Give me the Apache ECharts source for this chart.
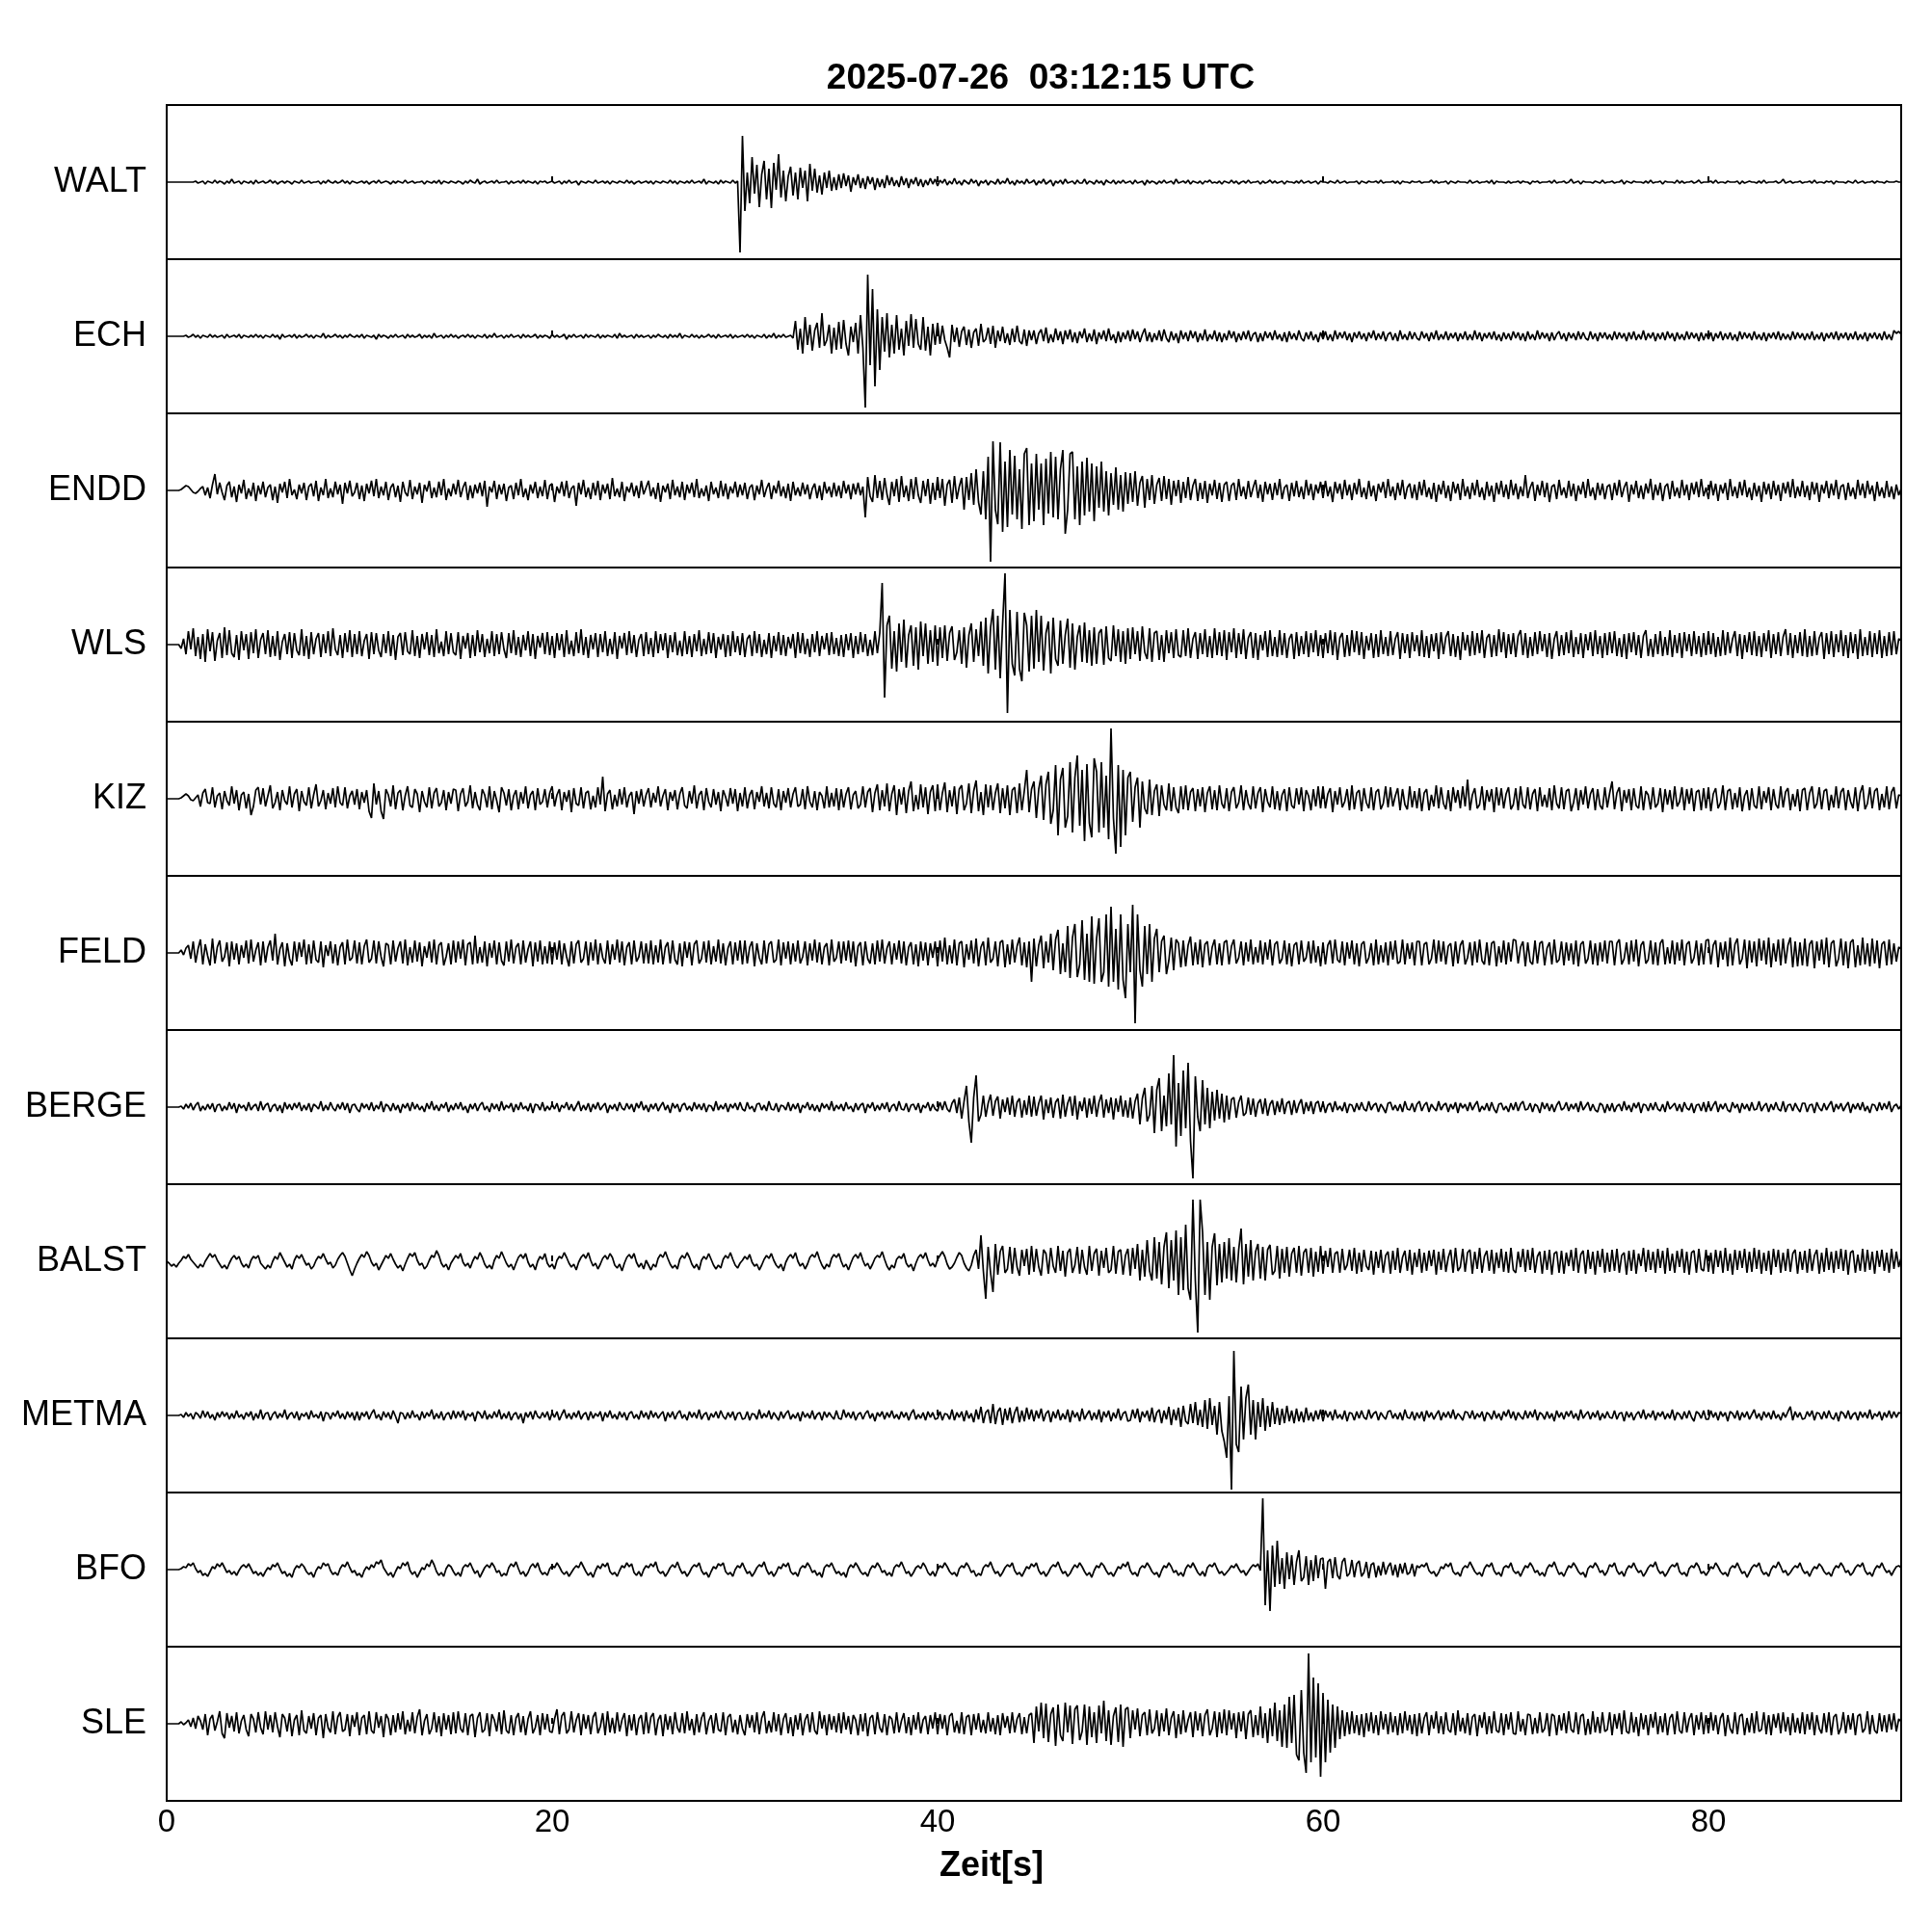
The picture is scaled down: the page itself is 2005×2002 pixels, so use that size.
<!DOCTYPE html>
<html><head><meta charset="utf-8">
<script src="https://cdn.jsdelivr.net/npm/echarts@6/dist/echarts.min.js"></script>
<style>html,body{margin:0;padding:0;background:#fff}#c{width:2005px;height:2002px}</style>
</head><body><div id="c"></div>
<script>
const chartTitle = '2025-07-26  03:12:15 UTC';
const xAxisName = 'Zeit[s]';
const stations = ['WALT','ECH','ENDD','WLS','KIZ','FELD','BERGE','BALST','METMA','BFO','SLE'];
const sampleStep = 0.125; // seconds between samples
const rowSpan = 5;        // each row below holds 5 s of samples
const timeMax = 90;
const xTickLabels = [0, 20, 40, 60, 80];

const WALT = [
[0,0,0,0,0,0,0,0,0,0,0,0,1,-1,0,1,-2,1,0,-1,2,-1,1,0,-2,1,-1,3,-1,0,1,-2,1,0,-1,1,-2,2,-1,0],
[1,-1,0,2,-1,1,-2,0,1,-1,1,0,-2,1,0,-1,2,-1,0,1,-1,0,0,1,-2,1,-1,2,0,-1,1,-1,0,2,-1,1,-2,1,0,-1],
[0,1,-1,1,-2,0,1,-1,2,-1,0,1,0,-2,1,-1,1,0,-1,2,-1,0,1,-1,0,0,1,-2,1,0,-1,1,-1,2,-2,1,0,-1,1,0],
[-1,1,0,-2,1,-1,2,0,-1,3,-2,0,1,-1,0,1,-1,2,-1,0,0,1,-2,1,-1,0,1,-1,2,-1,1,0,-1,1,-2,1,0,1,-1,0],
[1,-1,0,1,-2,1,-1,2,-1,0,1,-3,1,0,-1,1,0,-1,2,-1,0,1,-1,1,-2,1,0,-1,1,0,-1,2,-1,1,-2,0,1,-1,0,1],
[-1,1,-2,1,0,-1,1,0,-1,2,-1,1,-2,1,0,-1,1,-1,2,-1,0,1,-1,3,-2,1,0,-1,1,-2,2,-1,1,0,-1,2,-1,1,-73,48],
[-30,10,-22,26,-12,18,-26,8,22,-18,14,-27,20,-8,29,-16,12,-20,6,16,-14,10,-18,15,-6,12,-20,19,-9,14,-11,7,-13,10,-6,12,-9,5,-8,8],
[-6,9,-4,7,-10,5,-3,8,-6,4,-7,6,-2,5,-8,4,-5,3,-6,7,-3,5,-4,2,-5,6,-3,4,-6,3,-2,5,-4,3,-5,2,-3,4,-2,3],
[-4,2,-1,3,-3,1,-2,4,-2,1,-3,2,0,-2,3,-1,2,-4,1,-1,2,-3,1,0,-2,3,-2,1,-1,4,-2,1,-3,2,-1,1,-2,3,-1,0],
[2,-3,1,-1,3,-2,0,2,-4,1,-1,2,-2,3,-1,0,1,-2,2,-1,-1,3,-2,1,0,-2,2,-1,1,-3,2,0,-1,2,-2,1,-1,2,-1,0],
[1,-2,2,-1,0,1,-3,2,-1,1,0,-2,1,-1,2,-1,0,1,-2,3,-1,0,1,-1,2,-2,1,0,-1,1,-2,1,0,2,-1,0,-1,1,-2,1],
[0,-1,2,-1,1,-2,0,1,-1,2,-1,0,0,1,-2,1,-1,0,2,-1,1,-1,0,1,-2,1,0,0,-1,1,-1,2,-1,0,1,-1,0,1,-2,1],
[0,0,-1,1,0,-1,2,-1,0,1,-1,0,0,0,1,-2,1,0,-1,1,0,0,1,-1,2,-1,0,0,0,1,-1,1,-2,1,0,0,-1,1,0,0],
[1,-1,0,0,0,2,-1,1,-1,0,0,1,-2,1,0,-1,1,0,0,0,-1,2,-1,0,1,-1,0,0,1,-1,2,-2,1,0,0,0,-1,1,-1,0],
[0,1,-1,1,0,0,-2,1,0,1,-1,0,0,0,1,-1,2,-1,0,0,1,-1,0,3,-1,0,1,-2,1,0,0,0,-1,1,0,-1,2,-1,0,0],
[1,-1,0,0,2,-2,1,0,-1,1,0,0,0,-1,1,-1,2,-1,0,0,1,-2,1,0,0,0,-1,2,-1,1,-1,0,0,1,-1,0,2,-1,0,0],
[0,1,-1,2,-1,0,0,-1,1,0,0,0,1,-2,1,-1,0,1,0,0,-1,1,-1,2,-1,0,0,0,1,-1,0,3,-1,0,1,-1,0,0,1,-1],
[0,0,1,-1,2,-1,0,0,-1,1,0,1,-2,1,0,0,0,-1,1,0,-1,2,-1,0,1,-1,0,0,1,-1,1,0,0,-1,1,0,0,0,1,0,0]];

const ECH = [
[0,0,0,0,0,0,0,0,1,-1,0,2,-1,1,-2,1,0,-1,2,-1,1,-1,0,1,-2,2,-1,0,1,-1,2,-2,1,0,-1,1,-1,2,-1,1],
[-2,1,0,-1,2,-1,1,-3,2,-1,0,1,-1,2,-2,1,-1,0,2,-1,1,-2,1,0,-1,3,-2,1,-1,0,2,-1,1,-2,1,-1,2,0,-1,1],
[-1,2,-2,1,0,-1,1,-3,2,-1,1,0,-2,1,-1,2,-1,0,1,-2,2,-1,1,-1,0,2,-2,1,-1,1,-2,3,-1,0,1,-2,1,-1,2,-1],
[1,-2,0,1,-1,2,-1,1,-2,1,0,-1,2,-2,1,-1,3,-1,0,1,-2,1,-1,2,-1,0,1,-2,2,-1,1,-1,0,2,-2,1,-1,1,0,-2],
[2,-1,1,-1,0,2,-3,1,-1,2,-1,0,1,-2,2,-1,1,0,-1,2,-2,1,-1,1,0,-1,2,-2,3,-1,1,-1,0,1,-2,2,-1,1,-1,0],
[1,-2,1,-1,2,0,-1,1,-2,2,-1,1,-1,3,-2,1,0,-1,2,-1,1,-2,1,-1,0,2,-1,1,-2,2,-1,0,1,-1,2,-2,1,-1,0,1],
[-1,2,-1,1,-2,1,0,-1,2,-2,1,-1,3,-2,1,-1,2,-1,0,1,-2,16,-14,8,-18,20,-9,12,-15,6,14,-12,24,-10,-4,12,-18,9,-14,15],
[-13,17,-8,-20,10,-6,14,-18,22,-12,-74,64,-30,49,-52,28,-35,20,-16,24,-22,12,-18,22,-14,8,-20,16,-10,23,-12,18,-8,-14,20,-15,10,-20,13,-9],
[14,-8,11,-4,-12,-22,12,-6,9,-11,5,10,-9,7,-12,4,8,-10,13,-6,-3,9,-8,11,-12,6,-5,10,-7,3,-9,8,-6,11,-5,-8,7,-10,6,-4],
[6,-8,3,7,-5,9,-7,2,-6,8,-4,5,-8,6,-3,7,-6,4,-7,5,-2,8,-6,3,-5,7,-8,4,-3,6,-5,8,-4,2,-7,5,-6,4,-3,6],
[-5,7,-3,5,-6,2,8,-5,4,-6,3,-4,6,-5,7,-2,-6,5,-4,3,-7,6,-3,4,-5,6,-2,5,-6,3,-4,7,-5,2,-3,6,-5,4,-6,3],
[-4,6,-2,5,-6,3,-4,5,-3,6,-5,2,4,-6,3,-5,5,-2,4,-4,6,-3,2,-5,4,-6,5,-3,3,-4,6,-2,-5,4,-3,5,-4,2,-6,4],
[-3,5,-4,2,-5,6,-3,4,-2,5,-4,3,-6,4,-2,5,-3,3,-5,4,-2,6,-4,3,-3,5,-5,2,4,-4,3,-5,6,-3,2,-4,5,-3,4,-2],
[-4,5,-2,3,-5,4,-3,6,-4,2,-3,5,-4,3,-2,4,-5,3,-3,5,-4,2,-4,6,-3,4,-5,3,-2,4,-3,5,-4,2,-5,4,-3,3,-4,5],
[-2,4,-4,3,-5,5,-3,2,-4,6,-3,4,-2,3,-5,4,-4,2,5,-3,3,-5,4,-2,3,-4,5,-3,4,-2,-4,5,-3,3,-5,4,-2,4,-3,2],
[-4,5,-3,4,-2,3,-5,4,-3,5,-4,2,-3,6,-4,3,-2,4,-5,3,-3,4,-4,5,-2,3,-5,4,-3,2,-4,5,-3,4,-2,3,-5,4,-4,3],
[-3,4,-5,3,-2,5,-4,3,-3,4,-4,2,-5,5,-3,4,-2,3,-4,5,-3,2,-4,4,-5,3,-2,4,-3,5,-4,3,-3,2,-4,5,-3,4,-2,3],
[-4,3,-3,5,-4,2,-3,4,-5,3,-2,4,-3,5,-4,3,-2,4,-4,3,-3,5,-4,2,-3,4,-5,3,-2,4,-3,3,-4,5,-3,2,-4,6,3,5,2]];

const ENDD = [
[0,0,0,0,0,0,1,3,5,4,1,-2,-3,-1,2,4,-5,3,-8,6,17,-4,8,-2,-10,5,9,-7,4,-12,6,-3,11,-9,2,-6,8,-11,5,-4],
[9,-7,3,6,-10,4,-13,7,-2,9,-8,12,-5,1,-9,6,-3,8,-10,4,7,-6,10,-11,3,-5,12,-8,2,-7,9,-4,6,-14,8,-3,10,-6,-2,8],
[-9,5,-11,7,-3,10,-6,12,-8,4,-5,9,-10,3,7,-7,5,-12,9,-2,-6,11,-9,4,-4,8,-13,6,-1,10,-8,3,-7,9,-5,12,-10,2,-6,7],
[-4,11,-7,3,9,-10,5,-8,6,-3,8,-6,10,-17,4,-2,10,-9,6,-4,7,-11,3,5,-9,8,-5,12,-7,2,-10,6,-3,9,-8,4,-6,11,-9,5],
[7,-12,4,-3,9,-6,10,-8,2,5,-16,8,-4,11,-7,3,-9,8,-5,10,-10,6,-3,7,-9,13,-6,2,-7,9,-11,4,-2,8,-6,5,-8,10,-4,3],
[10,-6,3,-9,8,-12,5,-2,7,-9,11,-5,4,-7,9,-10,6,-3,8,-7,12,-8,2,-6,5,-11,9,-4,3,-8,10,-6,7,-9,4,-3,9,-7,6,-5],
[8,-9,3,6,-10,5,-4,11,-7,2,8,-9,5,-3,10,-6,4,-8,7,-11,9,-5,3,-6,8,-4,6,-9,2,7,-8,5,-10,9,-3,4,-7,8,-6,5],
[-8,10,-3,6,-9,7,-4,8,-5,4,-28,14,-6,-12,16,-8,10,-10,13,-4,-15,9,-6,12,-12,15,-7,5,-11,12,-9,14,-5,-13,10,-6,12,-14,8,-10],
[14,-8,12,-16,6,11,-13,15,-9,4,13,-20,14,-10,18,-15,22,-12,-25,20,-30,35,-74,51,-20,-35,50,-43,30,-38,42,-25,36,-30,22,-40,38,44,-36,28],
[-32,38,-20,28,-36,33,-24,40,-28,35,-30,22,42,-45,-20,38,40,-30,25,-36,30,-26,34,-22,28,-32,25,-18,30,-22,20,-26,18,-15,24,-20,16,-22,19,-14],
[18,-12,20,-16,8,15,-18,12,-10,16,-14,6,13,-11,15,-9,12,-15,10,-6,11,-13,9,-8,14,-10,5,12,-11,8,-9,10,-13,7,-5,11,-9,8,-12,6],
[9,-11,5,8,-10,12,-6,4,-9,10,-7,3,11,-8,6,-12,9,-4,7,-10,8,-5,12,-9,3,6,-11,8,-6,10,-7,4,-9,11,-5,7,-10,6,-3,9],
[-8,10,-6,4,-12,9,-3,7,-9,11,-5,6,-10,8,-4,12,-7,3,-9,10,-6,5,-11,7,-2,9,-8,12,-6,4,-10,8,-5,11,-9,3,7,-8,6,-10],
[9,-5,11,-7,3,-9,8,-12,6,-4,10,-8,5,-11,9,-3,7,-10,12,-6,4,-9,8,-5,11,-7,3,-10,9,-6,5,-12,8,-4,10,-7,6,-9,11,-5],
[7,-9,4,-6,16,-8,3,9,-11,6,-5,10,-7,8,-12,4,6,-9,11,-5,3,-8,10,-6,7,-11,5,-4,9,-8,12,-6,3,-10,8,-5,7,-9,4,6],
[-10,8,-5,11,-7,3,9,-12,6,-4,10,-8,5,-9,7,-3,12,-10,6,-5,8,-11,4,7,-9,10,-6,3,-8,11,-5,6,-10,8,-4,9,-7,12,-6,3],
[-9,10,-5,7,-11,6,-3,8,-10,12,-6,4,-8,9,-5,11,-7,3,-10,8,-6,5,-12,9,-4,7,-9,10,-5,6,-11,8,-3,9,-7,12,-8,4,-6,10],
[-7,5,-10,9,-4,8,-12,6,-3,10,-8,7,-5,11,-9,4,6,-10,8,-6,3,-9,11,-5,7,-8,10,-4,5,-11,9,-6,3,-8,10,-7,4,-9,6,-5,2]];

const WLS = [
[0,0,0,0,0,0,-4,6,-10,14,-5,17,-12,8,-15,11,-18,16,-7,13,-17,4,12,-14,18,-11,15,-9,-13,10,-16,14,-6,11,-15,13,-9,16,-14,5],
[12,-10,15,-13,9,-12,14,-16,3,11,-10,13,-14,12,-6,-11,16,-12,9,-15,13,-10,6,12,-13,11,-9,14,-12,17,-5,-11,10,-14,12,-8,15,-13,11,-10],
[14,-12,4,11,-15,13,-10,12,-6,-13,11,-9,14,-12,10,-16,8,12,-11,13,-7,-10,15,-12,9,-14,11,-5,13,-11,10,-13,16,-9,3,-12,14,-10,12,-8],
[-11,13,-15,9,-4,12,-14,10,-12,15,-8,11,-13,6,-9,14,-12,11,-10,13,-5,-14,12,-9,15,-11,8,-13,10,-6,14,-12,11,-15,9,-3,12,-10,13,-11],
[9,-14,12,-6,11,-13,15,-10,4,-12,13,-9,16,-11,8,-14,10,-5,12,-13,11,-8,14,-12,6,-10,13,-15,9,-4,12,-11,14,-9,10,-13,5,11,-12,13],
[-10,7,-13,14,-9,11,-6,12,-14,10,-8,13,-11,4,-12,14,-10,9,-13,11,-7,15,-12,6,-10,13,-9,12,-14,8,-5,11,-13,10,-12,14,-8,9,-11,12],
[-13,6,10,-12,14,-9,11,-13,5,-10,12,-14,9,-7,13,-11,10,-12,8,-4,11,-14,13,-9,12,-10,6,-13,11,-8,14,-12,9,-5,12,-11,13,-10,7,-12],
[10,-13,11,-6,12,-14,9,-10,13,-8,11,-12,5,-11,14,-9,12,64,-55,20,30,-25,14,-28,22,-18,26,-24,10,20,-22,18,-26,24,-12,22,-20,15,-18,20],
[-22,18,-14,20,-17,12,19,-16,-8,15,-20,18,-24,10,22,-18,16,-12,24,-22,28,-30,18,37,-26,30,-35,22,74,-71,36,-20,-32,34,-25,-38,33,20,-28,30],
[-25,36,-18,30,-27,12,24,-30,28,-15,-22,25,-20,10,27,-24,22,-26,8,20,-18,23,-19,15,-22,18,-20,12,16,-21,19,-14,-17,20,-12,16,-18,14,-20,17],
[-15,18,-10,14,-17,19,-8,-15,17,-18,12,14,-16,10,-18,15,-9,13,-14,16,-11,-13,15,-12,17,-14,6,13,-15,12,-10,16,-13,9,-14,17,-11,13,-12,15],
[-16,13,-8,17,-14,12,-10,16,-15,7,13,-14,12,-16,10,-6,14,-13,15,-12,8,-13,15,-11,12,-14,6,11,-15,13,-12,9,-10,14,-13,12,-8,15,-12,10],
[-14,12,-9,15,-11,13,-16,7,12,-13,10,-12,15,-8,14,-11,13,-15,9,-6,12,-14,11,-13,15,-10,8,-12,14,-11,6,13,-15,12,-9,11,-14,13,-7,10],
[-12,15,-13,9,-14,11,-7,12,-15,13,-10,8,14,-12,11,-13,9,-16,13,-6,10,-12,14,-11,12,-9,15,-14,7,11,-13,10,-12,16,-8,13,-14,11,-10,12],
[-13,9,15,-11,12,-14,8,-12,13,-10,14,-7,11,-13,12,-15,6,14,-12,10,-11,13,-9,15,-13,8,-10,12,-14,11,-6,13,-12,15,-10,9,-14,12,-11,13],
[-9,14,-12,7,-13,11,-15,12,-8,13,-11,10,-14,9,15,-12,6,-13,11,-10,14,-12,8,-11,15,-13,10,-9,12,-14,13,-7,11,-12,14,-10,9,-13,12,-11],
[14,-10,12,-13,8,-12,15,-11,13,-9,6,14,-12,11,-15,10,-8,13,-11,14,-12,9,-13,12,-7,15,-14,11,-10,13,-12,8,16,-11,12,-14,10,-9,13,-12],
[16,-13,9,-12,14,-11,7,13,-15,12,-10,14,-13,11,-8,15,-12,10,-14,13,-9,11,-15,16,-12,8,-11,14,-13,12,-10,15,-14,9,-12,13,-11,14,-10,6,4]];

const KIZ = [
[0,0,0,0,0,0,1,3,5,3,-1,-2,1,4,-8,6,10,-4,-5,12,-9,3,6,-11,8,-2,-7,13,-5,9,-12,4,7,-10,5,-17,-8,9,12,-6],
[11,-8,3,14,-10,-4,7,-12,9,-2,-6,13,-9,5,10,-13,8,-3,-7,12,-10,4,15,-8,-2,9,-11,6,-5,11,-9,13,-4,-7,12,-10,3,8,-6,10],
[-11,7,-4,9,-13,-20,16,-6,8,-13,-21,10,4,-8,14,-11,6,9,-12,3,13,-7,-9,10,5,-14,8,-3,-9,12,-10,6,11,-8,-4,9,-12,7,-5,10],
[9,-13,5,11,-8,-3,14,-10,7,-6,-12,10,4,-9,13,-11,8,-2,-14,12,6,-7,10,-12,3,9,-11,7,-5,13,-10,4,8,-12,11,-6,-3,10,-9,6],
[13,-8,4,10,-12,7,-3,9,-14,11,-5,-7,12,-10,6,8,-11,3,-9,12,-6,23,-13,5,9,-11,4,-8,10,-6,12,-9,3,7,-16,8,-5,10,-8,4],
[11,-9,6,-4,13,-8,3,10,-12,7,-2,9,-11,5,12,-7,-10,8,-5,14,-10,4,8,-12,11,-3,-9,10,-6,7,-13,9,2,-8,11,-5,10,-13,6,-8],
[12,-10,4,9,-11,7,-3,13,-8,6,-10,12,-5,-9,10,-12,8,-4,11,-9,5,12,-8,-6,10,-11,13,-3,-9,8,-12,7,3,-10,13,-9,6,-8,11,-12],
[10,-9,5,12,-11,4,8,-10,-6,13,-9,7,11,-14,6,15,-12,9,-8,16,-13,5,14,-17,10,-6,12,-15,8,18,-13,4,-11,15,-9,12,-16,7,14,-13],
[15,-12,6,17,-14,9,-8,13,-16,10,14,-12,-5,16,-15,8,19,-13,7,-17,15,-9,14,-12,6,16,-15,11,-10,14,-17,9,12,-15,16,-12,8,30,-14,10],
[18,-20,10,24,-22,15,28,-26,-12,35,-38,20,32,-30,-18,38,-35,22,45,-28,30,-44,36,-25,-40,42,28,-35,38,-30,24,-42,73,-20,-57,35,-50,30,-38,22],
[28,-24,12,22,-30,18,-10,-16,20,-17,8,15,-18,14,-6,-12,16,-13,12,-9,-15,13,-11,14,-12,7,11,-13,10,-8,12,-14,6,13,-11,9,-12,14,-5,-10],
[11,-13,7,12,-10,-4,14,-12,9,-5,-11,13,-10,6,12,-14,10,-3,-9,13,-11,8,-12,4,10,-13,12,-7,-10,11,-6,12,-13,9,3,-12,10,-8,13,-10],
[13,-10,5,11,-14,8,-6,12,-9,-3,10,-12,14,-11,6,9,-13,11,-4,-10,12,-12,7,10,-11,-5,13,-9,12,-8,3,11,-12,10,-6,-11,13,-9,8,-10],
[11,-13,6,10,-12,4,-8,14,-10,12,-5,-11,9,-13,12,-4,9,-10,13,-8,20,-12,4,11,-10,-6,13,-12,9,-3,10,-14,12,-7,11,-10,5,12,-11,-6],
[11,-12,13,-6,-10,12,-11,5,10,-13,12,-8,4,-9,11,-12,14,-5,-10,12,-11,8,10,-13,-4,11,-12,9,-6,13,-10,5,11,-12,10,-7,-11,12,-9,6],
[18,-11,6,12,-13,9,-4,10,-12,11,-7,-10,13,-12,8,4,-11,12,-9,-5,11,-14,10,-6,9,-11,13,-8,-3,12,-12,10,-5,11,-13,7,9,-12,11,-10],
[12,-13,5,11,-10,-4,14,-12,8,10,-11,6,-9,12,-13,3,9,-12,11,-7,-10,13,-11,8,-4,12,-12,10,-6,-10,13,-9,7,11,-12,5,-8,10,-13,9],
[11,-12,6,13,-10,-5,12,-11,8,10,-12,4,-9,13,-10,7,11,-12,9,-3,-10,12,-13,6,14,-11,-5,12,-10,8,11,-12,5,-9,13,-11,7,12,-10,4,3]];

const FELD = [
[0,0,0,0,0,0,3,-2,5,8,-6,12,-10,4,14,-12,9,-3,-13,15,-11,6,13,-9,-4,11,-14,12,-7,10,-12,8,-5,13,-11,14,-9,3,11,-13],
[12,-10,6,13,-8,20,-12,4,11,-14,10,-6,-13,12,-9,11,-4,14,-12,9,-11,13,-7,-10,12,-15,8,-3,12,-11,9,-13,6,11,-12,14,-8,-5,13,-11],
[11,-12,7,14,-10,-6,13,-11,12,-4,-14,10,8,-12,13,-9,5,12,-11,14,-13,6,-10,13,-9,11,-14,7,-5,12,-10,14,-12,8,11,-13,-4,10,-12,13],
[-10,12,-6,14,-13,9,11,-12,18,-11,6,-10,12,-14,10,-5,13,-12,11,-8,-13,12,-9,14,-11,6,10,-12,13,-10,4,12,-14,11,-9,13,-12,7,-11,12],
[-12,11,-7,13,-12,10,-4,-14,12,-11,9,13,-10,-6,12,-13,11,-8,14,-12,10,-5,-11,13,-12,9,-7,14,-10,12,-13,6,11,-12,13,-9,-4,12,-11,10],
[-11,13,-12,8,-10,14,-12,6,11,-11,13,-7,-12,10,-14,12,-5,11,-13,9,13,-11,-6,12,-10,13,-12,7,-9,14,-11,10,-13,5,12,-12,11,-8,13,-12],
[13,-11,6,12,-14,10,-5,-12,13,-11,9,12,-10,-7,14,-13,11,-6,12,-12,10,-9,13,-11,-4,12,-13,10,-8,14,-10,11,-12,6,10,-13,14,-9,-5,12],
[-11,12,-8,13,-10,12,-14,7,11,-13,12,-6,-11,10,-12,13,-9,14,-11,5,12,-12,10,-7,13,-11,12,-13,6,11,-12,9,-14,12,-8,11,-13,10,-5,12],
[-14,13,-9,16,-12,8,-11,14,-13,10,12,-15,9,-7,13,-11,15,-14,6,12,-13,16,-10,-6,12,-14,11,13,-15,9,-12,14,-10,7,16,-13,11,-15,12,-30],
[15,-14,8,18,-16,12,-10,20,-18,14,24,-22,10,-20,28,-26,16,30,-25,-12,34,-28,20,-30,38,-32,15,36,-30,-20,40,-35,48,-30,25,-38,40,-28,-47,30],
[-20,50,-73,40,-18,-35,28,-22,30,-30,15,25,-20,12,18,-22,-8,16,-18,14,10,-15,13,-14,8,17,-13,11,-12,14,-15,9,12,-13,6,14,-12,10,-13,11],
[13,-12,7,14,-11,-5,12,-13,11,-9,14,-12,6,-10,13,-12,11,-7,14,-13,9,12,-11,-6,13,-12,10,-14,8,11,-12,13,-9,-5,12,-11,13,-10,7,-14],
[11,-12,8,13,-11,14,-7,-10,12,-13,11,-6,13,-12,10,-14,9,12,-11,-5,10,-13,14,-12,8,-10,11,-13,12,-7,13,-11,-9,14,-12,10,-6,11,-13,12],
[12,-13,9,11,-12,-6,14,-11,13,-9,12,-12,7,10,-14,12,-11,8,13,-12,-5,11,-13,12,-10,14,-8,-12,11,-13,10,12,-14,7,-10,13,-12,11,-9,14],
[13,-11,6,12,-14,11,-9,-12,13,-11,10,12,-13,5,11,-12,14,-10,-7,12,-13,11,-8,10,-12,13,-14,9,12,-11,-6,13,-12,10,-13,11,-9,13,-11,12],
[12,-13,10,14,-12,-6,11,-12,13,-9,14,-14,8,12,-11,-7,13,-12,11,-13,10,14,-12,6,-11,13,-12,11,-8,14,-13,9,12,-11,-5,13,-13,10,-12,13],
[14,-12,8,13,-15,11,-7,12,-14,16,-13,9,15,-12,-6,14,-16,13,-10,12,-14,15,-8,13,-12,16,-15,10,-9,14,-13,15,-11,8,16,-15,12,-14,11,-13],
[15,-14,9,13,-16,12,-8,14,-12,16,-15,10,13,-14,-6,15,-13,12,-16,11,14,-15,8,-13,16,-12,10,-14,15,-11,13,-16,9,12,-13,14,-12,10,-9,6,4]];

const BERGE = [
[0,0,0,0,0,0,1,-2,3,-1,4,-3,2,5,-4,1,-3,3,-2,4,-5,2,3,-4,1,-3,5,-2,4,-6,3,-1,2,-4,5,-3,1,3,-4,6],
[-3,2,4,-5,1,3,-4,2,-6,5,-2,3,-3,4,-1,5,-4,2,-3,4,-5,3,1,-2,6,-4,2,-3,5,-1,-4,3,-2,5,-3,4,-6,2,3,-2],
[-5,4,-1,3,-3,5,-4,2,-2,6,-5,3,1,-4,4,-3,2,-6,3,-1,4,-4,5,-2,3,-3,1,-5,4,-2,6,-3,2,-4,3,-1,5,-5,2,-3],
[4,-2,5,-3,1,-6,3,-2,4,-4,2,5,-3,1,-5,4,-2,3,-4,6,-3,2,-1,4,-5,3,-3,5,-2,1,-4,4,-6,3,2,-3,5,-4,1,-3],
[3,-2,4,-5,2,-1,5,-3,3,-4,1,6,-4,2,-3,4,-5,3,-2,5,-3,1,4,-6,2,-2,3,-4,5,-1,-3,4,-2,3,-5,4,-1,6,-3,2],
[-5,3,-2,4,-4,1,5,-3,2,-6,4,-1,3,-5,2,4,-3,1,-4,5,-2,3,-3,4,-5,2,1,-4,6,-3,2,-2,4,-5,3,-1,4,-3,5,-2],
[-4,5,-2,1,-5,3,4,-3,2,-4,6,-2,-3,4,-5,2,1,-3,5,-4,3,-2,4,-6,2,-1,5,-3,3,-4,2,-5,4,-1,3,-3,6,-4,2,-2],
[3,-4,5,-2,1,-5,4,-3,2,4,-6,3,-1,5,-4,2,-3,4,-2,5,-5,1,3,-4,6,-2,-3,4,-5,2,3,-3,4,-6,2,-1,5,-4,3,-2],
[-4,5,-3,6,-2,-5,4,8,-6,10,-12,6,22,-15,-37,10,33,-15,-8,12,-10,4,13,-9,6,11,-12,8,-5,10,-8,12,-10,5,9,-11,7,-8,12,-10],
[11,-9,4,12,-13,8,-6,10,-11,5,9,-12,13,-10,4,11,-9,12,-13,6,-4,10,-11,9,-7,12,-10,5,13,-11,8,-6,10,-13,9,-5,12,-10,7,-11],
[10,-12,6,14,-18,9,20,-15,-8,22,-27,18,30,-25,12,-20,35,-18,54,-41,25,-30,38,-22,46,-35,-74,32,-10,-25,28,-18,20,-22,16,-14,18,-12,14,-16],
[12,-13,8,10,-11,5,12,-9,-6,10,-8,9,-10,4,8,-7,9,-9,3,7,-8,6,-5,9,-7,4,6,-8,7,-6,3,8,-7,5,-4,6,-7,4,6,-5],
[5,-6,2,4,-5,6,-3,1,-4,5,-6,3,2,-5,4,-3,5,-2,-4,6,-3,2,4,-5,3,-1,-6,4,5,-3,2,-4,3,-5,6,-2,-3,4,-5,3],
[6,-4,2,5,-5,3,-1,-4,6,-3,2,4,-5,3,-2,5,-6,4,-1,3,-4,5,-3,2,6,-5,1,-3,4,-4,5,-2,-6,3,4,-3,1,-5,4,-3],
[5,-4,3,6,-3,-2,4,-5,3,1,-6,5,-2,4,-4,3,-5,2,6,-3,-1,5,-4,3,-2,4,-5,6,-3,1,5,-4,3,-3,-5,4,2,-6,3,-4],
[4,-5,1,3,-4,6,-3,2,-5,4,-1,5,-6,3,2,-4,4,-3,5,-2,-4,3,-5,6,-2,1,4,-4,3,-5,5,-1,-3,4,-6,2,3,-4,5,-5],
[5,-4,2,6,-5,3,-2,4,-3,-5,5,-1,3,-6,4,-2,3,-4,5,-3,-2,6,-4,1,4,-5,3,-3,5,-2,-4,6,-5,2,3,-4,4,-1,-5,4],
[4,-5,2,3,-6,5,-1,-4,4,-3,2,6,-5,3,-2,4,-4,1,5,-6,3,-2,4,-3,5,-4,1,-6,3,2,-4,5,-3,4,-2,6,-5,1,3,-2,2]];

const BALST = [
[0,-2,-5,-3,-6,-2,1,5,3,7,2,-1,-4,-7,-3,-6,0,4,8,4,7,1,-3,-7,-4,-8,-2,3,6,2,5,-2,-6,-3,-7,1,5,3,6,-2],
[-5,-8,-4,-7,0,5,2,9,4,-1,-6,-3,-8,1,6,3,7,1,-4,-2,-8,-5,1,5,3,8,2,-3,-1,-7,-4,2,6,9,5,-2,-9,-15,-8,-2],
[3,7,4,10,6,-1,-5,-2,-9,-4,1,6,3,8,2,-3,-7,-4,-10,-3,3,8,5,9,1,-4,-2,-8,-5,1,6,4,11,6,-2,-6,-3,-9,-2,2],
[6,3,8,-1,-5,-2,-7,0,5,2,9,4,-3,-7,-4,-8,1,6,3,10,4,-2,-6,-3,-9,-2,4,7,3,8,-1,-6,-3,-9,0,5,2,8,-2,-6],
[-3,-8,1,5,3,9,4,-2,-6,-3,-9,-1,4,7,3,9,1,-5,-2,-8,-3,3,6,2,8,4,-4,-7,-3,-10,-2,4,7,3,8,-1,-6,-2,-8,1],
[-4,-9,-3,-6,3,7,4,10,3,-3,-7,-4,-8,2,6,3,9,4,-3,-7,-3,-9,1,5,2,8,2,-4,-8,-4,-7,2,6,3,9,2,-4,-7,-2,1],
[5,2,7,-1,-5,-3,-9,-4,2,6,3,8,1,-4,-7,-3,-10,-1,4,7,3,9,0,-5,-2,-8,-3,4,7,4,10,2,-4,-8,-3,-6,3,7,4,8],
[0,-6,-3,-9,-2,4,7,3,9,1,-5,-2,-8,-3,3,6,4,10,2,-5,-9,-4,-7,2,5,3,8,-2,-6,-3,-10,-2,4,7,3,9,1,-5,-2,-6],
[2,6,10,5,-3,-8,-6,-2,4,9,6,-2,-7,-10,-4,6,12,-8,27,-10,-39,15,-12,-32,18,-14,10,16,-12,-8,15,-13,14,-6,-15,12,-5,13,-14,16],
[-11,13,-6,-15,12,8,-13,14,-5,-12,16,-10,11,-16,9,13,-12,-4,15,-13,12,-6,-14,16,-10,8,13,-15,11,-7,14,-12,-9,16,-13,10,12,-14,6,13],
[-15,14,-8,18,-20,12,-16,22,-10,-20,25,-18,20,-24,15,30,-28,22,-20,32,-35,25,-30,38,-28,-40,64,-20,-74,64,30,-35,20,-40,15,29,-25,18,-22,20],
[-18,24,-20,15,-22,12,34,-24,18,-16,22,-20,10,18,-18,15,-20,12,17,-14,-10,16,-18,13,-12,15,-16,8,14,-12,16,-15,9,13,-12,14,-16,10,-11,16],
[-13,11,-6,14,-12,8,10,-12,13,-9,-4,12,-10,14,-13,9,-11,12,-5,-9,11,-14,10,-7,12,-12,6,10,-13,11,-9,14,-12,4,11,-10,12,-14,9,-6],
[13,-12,9,-10,11,-5,12,-14,10,-9,13,-11,4,12,-12,14,-10,-6,13,-11,9,12,-13,10,-8,14,-12,5,11,-10,12,-13,9,-7,13,-11,10,-12,14,-9],
[-12,10,-6,13,-11,12,-9,14,-12,5,10,-13,11,-9,12,-14,8,10,-12,11,-13,9,-5,12,-10,14,-12,7,11,-13,12,-8,10,-14,11,-6,13,-12,9,-11],
[12,-10,13,-12,6,9,-14,11,-10,12,-13,8,-5,14,-11,12,-9,10,-12,13,-7,11,-13,14,-10,8,-12,11,-6,13,-12,10,-14,9,11,-12,13,-8,-10,12],
[-11,9,-13,12,-6,11,-12,14,-10,8,-14,12,-9,11,-7,13,-12,10,-11,14,-8,12,-13,9,-10,11,-14,13,-6,12,-12,9,-10,13,-11,8,12,-13,10,-9],
[11,-12,13,-10,6,12,-13,9,-11,14,-9,10,-12,11,-8,13,-10,12,-14,9,11,-12,7,-10,13,-11,12,-9,10,-13,11,-6,12,-10,9,-12,13,-8,10,-6,4]];

const METMA = [
[0,0,0,0,0,0,1,-2,3,-1,2,-4,3,1,-3,5,-2,4,-3,1,-5,3,-2,4,-1,3,-4,2,-3,5,-2,1,-4,3,-1,4,-5,2,-3,6],
[-4,2,3,-5,1,4,-3,2,-2,6,-4,1,3,-3,4,-5,2,-1,3,-4,5,-2,1,-3,4,-6,3,2,-4,3,-1,5,-3,2,-4,4,-2,3,-5,4],
[-5,3,-1,4,-4,2,6,-3,1,-5,4,-2,3,-4,5,-1,-8,3,2,-4,3,-3,5,-2,1,-5,4,-3,3,-1,6,-4,2,-3,4,-5,1,3,-4,5],
[-3,4,-2,5,-5,2,-1,3,-6,4,2,-3,5,-4,1,-3,4,-2,6,-4,2,-3,4,-5,1,3,-4,2,-8,3,-2,4,-4,5,-1,-3,3,-2,4,-5],
[3,-2,4,-5,1,6,-3,2,-4,3,-2,5,-4,1,3,-5,4,-3,2,-1,4,-6,3,-2,5,-3,1,-4,4,-2,3,-5,2,4,-3,1,-4,5,-2,3],
[-4,5,-2,3,-3,1,4,-6,3,-2,4,-4,2,5,-3,1,-5,4,-2,3,-3,6,-4,1,3,-5,2,-2,4,-3,5,-1,-4,3,-2,4,-5,2,3,-4],
[-3,4,-5,2,1,-4,6,-3,2,-2,5,-4,3,-1,-5,4,-3,2,5,-4,1,-3,3,-6,4,-2,2,-3,5,-4,1,3,-5,4,-2,3,-1,-4,5,-3],
[-4,6,-2,3,-3,4,-5,1,3,-4,2,5,-3,2,-6,3,-1,4,-4,3,-2,5,-3,1,-4,4,-2,3,-5,2,6,-4,1,-3,3,-5,4,-2,3,-4],
[-3,4,-5,2,1,-4,6,-5,3,-2,4,-6,5,-3,2,-7,6,-4,9,-8,3,6,-8,12,-9,4,8,-10,7,-5,8,-8,3,9,-7,5,-6,8,-4,6],
[-6,5,-3,7,-6,2,5,-7,4,-3,6,-5,2,-4,6,-7,5,-2,3,-6,7,-4,1,5,-5,3,-4,6,-7,4,-2,5,-6,3,-3,7,-5,2,4,-6],
[-5,6,-3,7,-7,4,-2,5,-6,8,-7,3,6,-8,5,-4,9,-10,6,-5,8,-12,10,-6,-9,12,-8,14,-10,6,-12,16,-14,18,-10,10,-20,14,-16,-27],
[-44,20,-77,67,-30,-38,30,-25,18,32,-20,16,-25,14,-12,18,-16,10,-12,14,-9,8,-10,7,-8,10,-6,5,-8,7,-6,4,-7,8,-5,3,-6,5,-4,6],
[-6,5,-2,4,-5,6,-3,1,-4,5,-6,3,2,-5,4,-3,5,-2,-4,6,-3,2,4,-5,3,-1,-4,4,5,-3,2,-4,3,-5,6,-2,-3,4,-5,3],
[-3,4,-6,5,-2,3,-4,1,5,-5,3,-2,4,-3,6,-4,2,-1,-5,4,3,-3,5,-4,2,-2,4,-6,3,1,-4,5,-3,2,-5,4,-1,6,-3,4],
[-5,3,-1,-4,5,-3,4,-2,6,-5,3,1,-4,4,-3,2,-6,5,-2,3,-4,4,-1,5,-3,2,-5,6,-3,1,4,-4,3,-2,5,-5,2,-3,4,-2],
[-3,5,-4,2,3,-6,4,-2,3,-5,1,4,-3,6,-4,2,-2,5,-5,3,-1,4,-4,2,-3,6,-5,3,1,-4,4,-3,5,-2,-6,4,2,-3,5,-4],
[-4,5,-2,3,-5,4,-1,3,-6,4,2,-3,5,-5,3,-2,4,-4,1,6,-3,2,-5,4,-2,3,-4,5,-3,1,-5,3,-2,4,9,-5,4,-2,3,-4],
[-3,4,-1,5,-5,3,2,-4,4,-3,5,-2,-4,3,-6,4,2,-3,5,-4,1,3,-5,4,-2,3,-3,6,-4,2,-1,4,-5,3,-2,5,-3,4,-2,3,2]];

const BFO = [
[0,0,0,0,0,0,1,3,2,6,4,7,1,-3,-1,-6,-4,-7,-2,3,1,6,3,7,2,-3,-1,-5,-2,-6,-1,3,5,2,6,1,-4,-2,-6,-3],
[-7,-2,2,0,5,3,7,1,-4,-2,-7,-4,-8,0,4,2,6,3,-2,-5,-3,-8,-1,3,1,7,4,6,-1,-5,-3,-6,1,5,3,8,2,-3,-1,-6],
[-4,-8,-1,3,0,5,2,8,6,10,2,-2,-6,-3,-8,-2,3,1,7,4,8,-1,-5,-2,-8,-3,2,0,6,3,10,5,-2,-6,-3,-7,1,5,3,-2],
[-6,-3,-7,2,5,3,7,1,-4,-1,-8,-3,2,5,2,7,3,-3,-1,-7,-4,-6,2,6,3,8,1,-5,-2,-7,-3,3,6,2,7,-1,-5,-3,-6,1],
[4,2,7,3,-2,-5,-2,-7,-3,1,4,2,8,3,-2,-6,-3,-8,-1,4,1,6,3,7,-2,-5,-3,-7,-1,4,2,7,3,6,-3,-6,-2,-7,0,4],
[2,6,3,8,-1,-4,-2,-7,-3,2,5,2,8,1,-4,-2,-7,-3,2,5,3,7,-1,-5,-3,-8,-2,3,1,6,4,7,-2,-5,-3,-7,0,4,2,7],
[1,-4,-2,-7,-3,2,5,3,8,0,-5,-2,-7,-3,3,1,6,3,7,-2,-5,-3,-7,1,4,2,7,3,-3,-1,-6,-3,-8,2,5,3,7,1,-4,-2],
[-6,-3,-8,1,5,2,7,3,-2,-5,-3,-7,0,4,2,7,3,-3,-1,-6,-3,-7,2,5,3,8,2,-4,-2,-7,-3,2,4,1,7,3,-3,-6,-2,-7],
[0,4,2,7,3,-2,-5,-3,-7,1,4,2,7,3,-3,-1,-7,-4,-6,2,5,3,8,1,-4,-2,-7,-3,2,5,3,7,-1,-5,-3,-7,-2,3,1,6],
[3,7,-1,-5,-2,-7,-3,2,5,3,8,1,-4,-2,-7,-4,1,5,2,7,3,-2,-6,-3,-8,-1,4,2,7,4,-1,-5,-3,-7,-2,3,1,6,3,8],
[-1,-5,-3,-7,1,4,2,7,3,-2,-5,-3,-8,-1,4,2,7,3,-3,-1,-6,-3,-7,1,5,2,7,2,-3,-6,-2,-7,2,5,3,7,1,-4,-2,-6],
[-3,0,4,2,6,1,-3,-1,-6,-2,2,5,3,6,-1,74,-37,20,-43,25,-18,30,-15,12,-20,18,-10,15,-16,8,20,-12,-8,14,-16,10,-12,15,-9,11],
[12,-20,8,11,-9,13,-6,-10,8,12,-7,-4,10,-8,6,9,-7,-3,8,-9,5,7,-8,4,-6,8,-5,3,7,-6,5,-8,6,-4,7,-5,-3,6,-7,4],
[2,5,3,7,-1,-4,-2,-7,-3,3,1,6,3,7,-2,-5,-3,-7,1,4,2,8,3,-2,-5,-3,-7,1,5,3,7,-1,-5,-3,-7,2,4,2,7,-1],
[-4,-2,-7,-1,4,2,7,3,-3,-1,-6,-3,-7,1,5,3,8,1,-5,-3,-7,-1,4,2,7,3,-2,-5,-3,-8,1,4,2,7,3,-3,-1,-6,-2,5],
[3,7,-1,-5,-2,-7,0,4,2,7,1,-3,-1,-7,-3,2,5,3,8,0,-4,-2,-7,-3,2,5,3,7,-2,-5,-3,-7,1,4,2,7,3,-4,-2,-6],
[-2,3,1,7,3,-2,-5,-3,-7,1,4,2,7,1,-4,-2,-8,-3,2,5,3,7,-1,-5,-3,-7,0,4,2,8,3,-3,-1,-6,-3,1,4,2,7,0],
[-4,-2,-7,-1,3,1,6,3,-2,-5,-3,-7,0,4,2,7,3,-3,-1,-6,-3,2,5,3,7,-1,-5,-3,-7,0,4,2,7,1,-3,-1,-6,-1,3,4,2]];

const SLE = [
[0,0,0,0,0,0,2,-1,1,4,-3,6,-5,8,3,-6,10,-12,5,9,-7,2,13,-10,-15,11,-4,8,-8,12,-10,3,9,-6,-13,10,5,-9,12,-4],
[-11,13,-6,9,-9,12,-3,-14,10,6,-8,11,-13,4,9,-12,14,-7,-10,8,-5,11,-12,6,9,-15,10,-4,-9,13,-11,7,12,-8,-6,10,-13,9,-3,12],
[-12,6,9,-11,13,-7,-10,12,-4,8,-14,10,5,-12,9,-9,11,-6,13,-11,4,-8,12,-10,7,15,-12,3,10,-11,-5,12,-9,8,-13,11,-6,9,-11,12],
[-10,13,-5,-9,11,-12,8,10,-14,6,12,-9,-6,11,-13,10,4,-8,12,-11,14,-7,-10,9,-12,6,11,-9,8,-12,5,13,-10,-4,9,-12,11,-6,10,-8],
[-9,5,15,-11,8,12,-10,-6,13,-9,4,11,-12,10,-5,9,-11,7,12,-10,-3,11,-12,13,-9,6,-10,12,-8,4,11,-13,9,-7,10,-12,5,9,-11,12],
[-10,7,11,-12,4,9,-13,10,-6,8,-11,12,-4,-9,11,-10,13,-7,5,-12,10,-9,6,12,-11,3,9,-10,11,-6,-8,12,-12,7,10,-9,4,-11,9,-5],
[-12,10,-4,9,-9,12,-11,6,13,-10,3,-9,12,-8,10,-12,5,11,-10,7,-13,9,-6,11,-12,4,10,-9,12,-7,-11,13,-5,9,-12,10,-6,8,-9,11],
[-10,12,-6,8,-11,9,4,-12,10,-8,11,-13,6,9,-11,12,-4,-9,10,-12,8,5,-10,12,-9,3,11,-10,7,-12,9,-6,12,-10,4,8,-11,9,-5,12],
[-11,10,-5,9,-12,8,11,-9,3,-10,12,-11,7,9,-12,10,-6,11,-9,4,-10,12,-8,6,-11,9,-12,11,-4,8,-10,12,-9,5,11,-11,7,-10,9,11],
[-20,18,-8,22,-15,21,-19,10,17,-23,20,-12,-18,22,-9,19,-21,15,19,-17,-8,20,-22,18,-14,12,-20,19,-10,24,-18,14,-22,8,17,-19,20,-24,15,17],
[-15,14,-6,16,-13,9,12,-12,15,-10,-5,14,-13,11,-8,16,-12,6,13,-15,10,-11,14,-9,4,12,-14,13,-7,11,-13,9,15,-12,-5,13,-14,12,-10,15],
[-12,14,-6,11,-15,12,-8,13,-16,10,14,-14,9,-12,18,-15,11,-20,16,-13,22,-18,14,-24,20,-25,28,-20,30,-32,-38,35,-30,-51,73,-40,48,-35,42,-55],
[32,-40,25,-30,20,-25,18,-16,14,-13,12,-11,13,-10,9,-12,10,-14,11,-8,12,-10,9,-12,13,-6,10,-11,12,-9,8,-12,11,-10,13,-7,9,-11,10,-13],
[11,-10,6,12,-12,9,-5,13,-10,8,-11,12,-6,-9,11,-12,14,-8,6,-10,11,-12,7,10,-13,9,-4,12,-11,8,-10,13,-7,-9,11,-12,10,-6,12,-10],
[-11,13,-8,5,-12,10,9,-11,6,-10,12,-9,-5,11,-13,10,8,-12,9,-7,11,-10,13,-6,-9,12,-11,8,10,-12,5,-11,13,-9,7,-10,12,-8,-6,12],
[-12,10,-5,11,-11,14,-8,-10,12,-9,7,-13,11,-6,9,-12,10,-4,12,-11,8,-9,11,-12,6,10,-11,13,-7,-10,12,-9,5,11,-12,9,-6,12,-11,9],
[-10,12,-7,9,-11,6,11,-13,9,-5,-10,12,-11,8,10,-12,6,-9,11,-10,13,-8,-6,12,-11,9,-12,10,-4,11,-10,12,-8,7,-12,11,-9,6,-10,12],
[-11,10,-6,12,-12,9,-5,-10,11,-9,12,-12,7,10,-11,-4,12,-10,9,-6,11,-12,8,10,-9,-5,13,-11,9,-7,-10,11,-8,9,-9,10,-6,11,-8,5,2]];

const traces = [WALT, ECH, ENDD, WLS, KIZ, FELD, BERGE, BALST, METMA, BFO, SLE];

function toPoints(rows) {
  const pts = [];
  rows.forEach((row, r) => row.forEach((v, j) => {
    const t = r * rowSpan + j * sampleStep;
    if (t <= timeMax + 1e-9) pts.push([t, v]);
  }));
  return pts;
}

const chart = echarts.init(document.getElementById('c'), null, {renderer: 'canvas'});
const FONT = '"Liberation Sans", Arial, Helvetica, sans-serif';
const plotLeft = 173, plotWidth = 1800, plotTop = 109, panelH = 160;
const grids = [], xAxes = [], yAxes = [], series = [], graphics = [];

stations.forEach((name, i) => {
  const last = i === stations.length - 1;
  grids.push({
    left: plotLeft, width: plotWidth, top: plotTop + panelH * i, height: panelH,
    show: true, borderColor: '#000', borderWidth: 2, backgroundColor: 'transparent',
    containLabel: false, outerBoundsMode: 'none'
  });
  xAxes.push({
    type: 'value', gridIndex: i, min: 0, max: timeMax, interval: 20,
    axisLine: {show: false},
    axisTick: {show: true, inside: true, length: 6, lineStyle: {color: '#000', width: 2}},
    axisLabel: {
      show: last, color: '#000', fontSize: 33, fontFamily: FONT, margin: 6,
      formatter: v => (xTickLabels.indexOf(v) >= 0 ? String(v) : '')
    },
    splitLine: {show: false}
  });
  yAxes.push({type: 'value', gridIndex: i, min: -80, max: 80, show: false});
  series.push({
    type: 'line', xAxisIndex: i, yAxisIndex: i,
    data: toPoints(traces[i]),
    showSymbol: false, symbol: 'none', smooth: false, clip: true,
    lineStyle: {color: '#000', width: 1.7}, silent: true, animation: false
  });
  graphics.push({
    type: 'text', x: 152, y: plotTop + panelH * i + panelH / 2, silent: true,
    style: {text: name, fill: '#000', fontSize: 36, fontFamily: FONT, align: 'right', verticalAlign: 'middle',
            textAlign: 'right', textVerticalAlign: 'middle'}
  });
});

graphics.push({
  type: 'text', x: 1080, y: 82, silent: true,
  style: {text: chartTitle, fill: '#000', fontSize: 37, fontWeight: 'bold', fontFamily: FONT,
          align: 'center', verticalAlign: 'middle', textAlign: 'center', textVerticalAlign: 'middle'}
});
graphics.push({
  type: 'text', x: 1029, y: 1937, silent: true,
  style: {text: xAxisName, fill: '#000', fontSize: 36, fontWeight: 'bold', fontFamily: FONT,
          align: 'center', verticalAlign: 'middle', textAlign: 'center', textVerticalAlign: 'middle'}
});

chart.setOption({
  animation: false,
  backgroundColor: '#fff',
  grid: grids, xAxis: xAxes, yAxis: yAxes, series: series,
  graphic: graphics
});
</script>
</body></html>
